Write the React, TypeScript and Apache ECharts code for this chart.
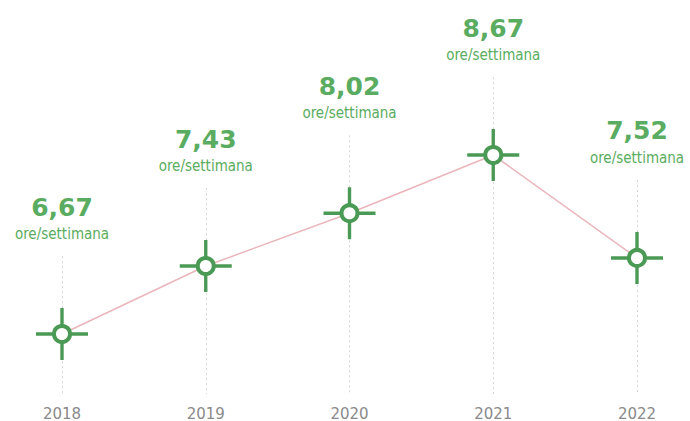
import React, { useEffect, useRef } from "react";
import * as echarts from "echarts";

const years = ["2018", "2019", "2020", "2021", "2022"];
const hours = [6.67, 7.43, 8.02, 8.67, 7.52];
const unitLabel = "ore/settimana";
const yMin = 6;
const yMax = 10;
const guideOffset = 0.87;

const GREEN = "#4a9a55";
const LABEL_GREEN = "#5aac60";

export default function App() {
  const ref = useRef<HTMLDivElement>(null);
  useEffect(() => {
    if (!ref.current) return;
    const chart = echarts.init(ref.current, null, { renderer: "svg" });
    const fmt = (v: number) => v.toFixed(2).replace(".", ",");
    chart.setOption({
      animation: false,
      backgroundColor: "#ffffff",
      grid: { left: 62, right: 53, top: 36, bottom: 27, containLabel: false },
      xAxis: {
        type: "category",
        data: years,
        boundaryGap: false,
        axisLine: { show: false },
        axisTick: { show: false },
        splitLine: { show: false },
        axisLabel: {
          color: "#8a8a8a",
          fontSize: 15,
          fontFamily: "DejaVu Sans",
          margin: 12,
        },
      },
      yAxis: {
        type: "value",
        min: yMin,
        max: yMax,
        show: false,
      },
      series: [
        {
          type: "line",
          data: hours,
          z: 1,
          showSymbol: false,
          lineStyle: { color: "#e9b6bb", width: 1.5 },
          markLine: {
            silent: true,
            z: 0,
            symbol: "none",
            label: { show: false },
            lineStyle: { color: "#d6d6d6", type: [2, 3], width: 1 },
            data: years.map((y, i) => [
              { coord: [y, hours[i] + guideOffset] },
              { coord: [y, yMin] },
            ]),
          },
        },
        {
          type: "scatter",
          data: hours.map((v, i) => [years[i], v]),
          z: 6,
          symbol:
            "path://M-1.75,-27 L1.75,-27 L1.75,27 L-1.75,27 Z M-27,-1.75 L27,-1.75 L27,1.75 L-27,1.75 Z",
          symbolSize: 52,
          itemStyle: { color: GREEN, opacity: 1 },
        },
        {
          type: "scatter",
          data: hours.map((v, i) => [years[i], v]),
          z: 7,
          symbol: "circle",
          symbolSize: 16,
          itemStyle: { color: "#ffffff", borderColor: GREEN, borderWidth: 4, opacity: 1 },
          label: {
            show: true,
            position: "top",
            distance: 79,
            formatter: (p: any) => `{v|${fmt(p.value[1])}}\n{u|${unitLabel}}`,
            rich: {
              v: {
                fontFamily: "DejaVu Sans",
                fontWeight: "bold",
                fontSize: 25,
                color: LABEL_GREEN,
                lineHeight: 32,
                align: "center",
              },
              u: {
                fontFamily: "'DejaVu Sans Condensed', 'Liberation Sans Narrow', sans-serif",
                fontSize: 15,
                color: LABEL_GREEN,
                lineHeight: 22,
                align: "center",
              },
            },
          },
        },
      ],
    });
    return () => chart.dispose();
  }, []);
  return (
    <div
      ref={ref}
      style={{ position: "fixed", left: 0, top: 0, width: 690, height: 421 }}
    />
  );
}
